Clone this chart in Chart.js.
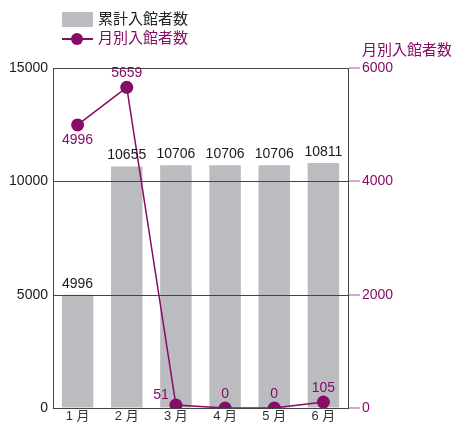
<!DOCTYPE html>
<html lang="ja">
<head>
    <meta charset="UTF-8">
    <title>入館者数</title>
    <script src="https://cdn.jsdelivr.net/npm/chart.js"></script>
    <style>
        body {
            margin: 0;
            padding: 0;
            background: #fff;
            font-family: "Liberation Sans", "Noto Sans CJK JP", sans-serif;
        }
        .wrap {
            position: relative;
            width: 451px;
            height: 424px;
        }
        .legend {
            position: absolute;
            left: 62px;
            font-size: 15px;
            line-height: 16px;
            display: flex;
            align-items: center;
            white-space: nowrap;
        }
        .legend .box {
            width: 31px;
            height: 15px;
            background: #bbbcbf;
            margin-right: 5px;
        }
        .legend .mark {
            position: relative;
            width: 31px;
            height: 15px;
            margin-right: 5px;
        }
        .legend .mark:before {
            content: '';
            position: absolute;
            left: 0; right: 0; top: 7px;
            height: 2px;
            background: #870c67;
        }
        .legend .mark:after {
            content: '';
            position: absolute;
            left: 9px; top: 2px;
            width: 12px; height: 12px;
            border-radius: 50%;
            background: #870c67;
        }
        .axis-title {
            position: absolute;
            left: 362px;
            top: 38px;
            font-size: 15px;
            color: #870c67;
            white-space: nowrap;
        }
    </style>
</head>
<body>
<div class="wrap">
    <canvas id="visitors"></canvas>
    <div class="legend" style="top:11px; color:#222;"><div class="box"></div>累計入館者数</div>
    <div class="legend" style="top:30px; color:#870c67;"><div class="mark"></div>月別入館者数</div>
    <div class="axis-title">月別入館者数</div>
</div>

<script>
    const months = ['1 月', '2 月', '3 月', '4 月', '5 月', '6 月'];
    const cumulative = [4996, 10655, 10706, 10706, 10706, 10811];
    const monthly = [4996, 5659, 51, 0, 0, 105];
    const leftTicks = [0, 5000, 10000, 15000];
    const rightTicks = [0, 2000, 4000, 6000];
    // where each monthly label sits relative to its point
    const monthlyLabelSide = ['below', 'above', 'left', 'above', 'above', 'above'];

    const PURPLE = '#870c67';
    const FONT = '"Liberation Sans", "Noto Sans CJK JP", sans-serif';

    // grid lines over the bars, under the line
    const gridOverBars = {
        id: 'gridOverBars',
        afterDatasetDraw(chart, args) {
            if (args.index !== 0) return;
            const ctx = chart.ctx;
            const y = chart.scales.y;
            const area = chart.chartArea;
            ctx.save();
            ctx.strokeStyle = '#444';
            ctx.lineWidth = 1;
            leftTicks.forEach(v => {
                const py = Math.round(y.getPixelForValue(v)) + 0.5;
                ctx.beginPath();
                ctx.moveTo(area.left, py);
                ctx.lineTo(area.right, py);
                ctx.stroke();
            });
            ctx.restore();
        }
    };

    const valueLabels = {
        id: 'valueLabels',
        afterDatasetsDraw(chart) {
            const ctx = chart.ctx;
            ctx.save();
            ctx.textAlign = 'center';
            ctx.textBaseline = 'middle';

            ctx.font = '14px ' + FONT;
            ctx.fillStyle = '#1a1a1a';
            chart.getDatasetMeta(0).data.forEach((bar, i) => {
                ctx.fillText(cumulative[i], bar.x, bar.y - 11);
            });

            ctx.fillStyle = PURPLE;
            chart.getDatasetMeta(1).data.forEach((pt, i) => {
                const side = monthlyLabelSide[i];
                let x = pt.x, y = pt.y;
                if (side === 'below') y += 15;
                else if (side === 'above') y -= 14;
                else { x -= 15; y -= 10; }
                ctx.fillText(monthly[i], x, y);
            });
            ctx.restore();
        }
    };

    new Chart(document.getElementById('visitors'), {
        data: {
            labels: months,
            datasets: [{
                type: 'bar',
                label: '累計入館者数',
                data: cumulative,
                backgroundColor: '#bbbcbf',
                categoryPercentage: 1,
                barPercentage: 0.64,
                yAxisID: 'y',
                order: 2
            }, {
                type: 'line',
                label: '月別入館者数',
                data: monthly,
                borderColor: PURPLE,
                backgroundColor: PURPLE,
                borderWidth: 1.5,
                pointRadius: 6.5,
                pointBackgroundColor: PURPLE,
                pointBorderWidth: 0,
                tension: 0,
                yAxisID: 'y2',
                order: 1
            }]
        },
        options: {
            responsive: true,
            maintainAspectRatio: false,
            animation: false,
            layout: { padding: { top: 68, bottom: 0, left: 0, right: 0 } },
            plugins: {
                legend: { display: false },
                tooltip: { enabled: false }
            },
            scales: {
                x: {
                    offset: true,
                    grid: { display: false, drawTicks: false },
                    border: { color: '#444' },
                    ticks: { color: '#333', font: { size: 13, family: FONT }, padding: 1 },
                    afterFit(scale) { scale.height = 16; }
                },
                y: {
                    position: 'left',
                    min: 0,
                    max: 15000,
                    afterBuildTicks(scale) { scale.ticks = leftTicks.map(v => ({ value: v })); },
                    grid: { drawOnChartArea: false, drawTicks: false },
                    border: { color: '#444' },
                    ticks: {
                        color: '#1a1a1a',
                        font: { size: 14, family: FONT },
                        padding: 5,
                        callback: v => String(v)
                    },
                    afterFit(scale) { scale.width = 53; }
                },
                y2: {
                    position: 'right',
                    min: 0,
                    max: 6000,
                    afterBuildTicks(scale) { scale.ticks = rightTicks.map(v => ({ value: v })); },
                    grid: { drawOnChartArea: false, color: '#dda5cc', tickLength: 12, lineWidth: 2 },
                    border: { color: '#444' },
                    ticks: {
                        color: PURPLE,
                        font: { size: 14, family: FONT },
                        padding: 2,
                        callback: v => String(v)
                    },
                    afterFit(scale) { scale.width = 103; }
                }
            }
        },
        plugins: [gridOverBars, valueLabels]
    });
</script>
</body>
</html>
